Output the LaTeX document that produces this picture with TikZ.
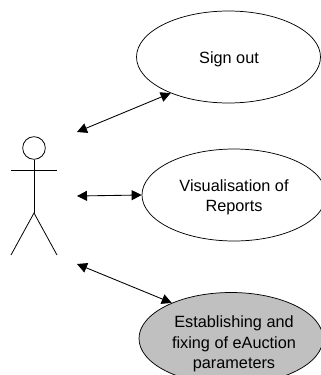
\documentclass[tikz,border=0pt]{standalone}
\usepackage{fontspec}
\setmainfont{Liberation Sans}
\usetikzlibrary{arrows.meta,shapes.geometric}
\tikzset{
    usecase/.style={draw, ellipse, line width=0.55pt, inner sep=0pt, minimum width=138pt, minimum height=69pt},
    casetext/.style={align=center, inner sep=0pt, font=\fontsize{12.2}{15.3}\selectfont},
    link/.style={line width=0.65pt, {Triangle[length=7.5pt,width=7.5pt]}-{Triangle[length=7.5pt,width=7.5pt]}},
    stick/.style={line width=0.6pt}
}
\begin{document}
\begin{tikzpicture}[x=0.75pt, y=-0.75pt]
    \useasboundingbox (0,0) rectangle (321,375);
    \coordinate (A) at (77,132);
    \coordinate (B) at (77,196);
    \coordinate (C) at (77,264);
    \coordinate (Hip) at (34,213);
    \coordinate (HandL) at (11,170);
    \coordinate (HandR) at (57,170);
    \coordinate (FootL) at (11,255);
    \coordinate (FootR) at (57,255);
	\node [usecase] (signout) at (228.5,57) {};
	\node [usecase] (reports) at (234,195) {};
	\node [usecase, fill={rgb,255:red,192;green,192;blue,192}] (params) at (231,338.5) {};
	\node [casetext] (signoutText) at (229,59) {Sign out};
	\node [casetext] (reportsText) at (234,197.5) {Visualisation of\\Reports};
	\node [casetext] (paramsText) at (234,344) {Establishing and\\fixing of eAuction\\parameters};
	\node [draw, circle, stick, inner sep=0pt, minimum size=17pt] (head) at (34,148) {};
	\draw [stick] (head.south) -- (Hip);
	\draw [stick] (HandL) -- (HandR);
	\draw [stick] (FootL) -- (Hip) -- (FootR);
	\draw [link] (A) -- (signout.212);
	\draw [link] (B) -- (reports.180);
	\draw [link] (C) -- (params.149);
\end{tikzpicture}
\end{document}
